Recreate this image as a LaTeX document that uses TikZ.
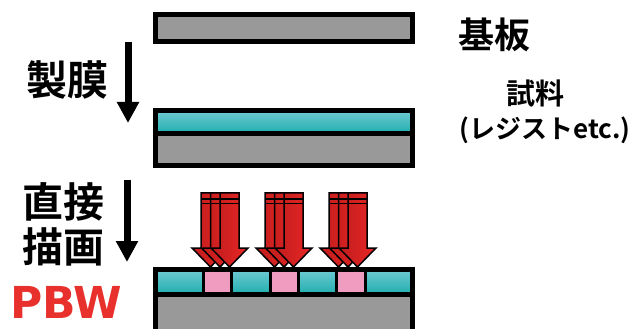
\documentclass[tikz,border=0pt]{standalone}
\usepackage{fontspec}
\newfontfamily\cjk{Noto Sans CJK JP}[BoldFont={Noto Sans CJK JP Bold}]
\newfontfamily\latinab{DejaVu Sans}
\usepackage{tikz}
\usetikzlibrary{arrows.meta}
\definecolor{gris}{RGB}{153,153,153}
\definecolor{cianclaro}{RGB}{112,202,210}
\definecolor{cianosc}{RGB}{30,174,174}
\definecolor{rosa}{RGB}{240,156,192}
\definecolor{rojo}{RGB}{232,40,38}
\definecolor{rojoosc}{RGB}{192,28,28}
\definecolor{rojopbw}{RGB}{232,48,44}
\tikzset{
  capa/.style={rectangle, draw=black, line width=5pt, inner sep=0pt, outer sep=0pt},
  sustrato/.style={capa, fill=gris},
  resina/.style={capa, top color=cianclaro, bottom color=cianosc},
  celda/.style={rectangle, draw=black, line width=3pt, inner sep=0pt, outer sep=0pt,
    minimum height=25pt},
  celdac/.style={celda, top color=cianclaro, bottom color=cianosc},
  celdar/.style={celda, fill=rosa},
  haz/.style={draw=black, line width=1.5pt, line join=miter, left color=rojoosc, right color=rojo},
  flecha/.style={-{Triangle[length=21pt, width=21pt]}, line width=7pt, black},
  etiq/.style={font=\cjk\bfseries, align=center, inner sep=0pt}
}
\begin{document}
\begin{tikzpicture}[x=1pt, y=-1pt]
  \useasboundingbox (0,0) rectangle (633,329);
  \clip (0,0) rectangle (633,329);
  % sustrato inicial
  \node[sustrato, minimum width=257pt, minimum height=27pt] (base1) at (284,28) {};
  % tras el depósito
  \node[resina, minimum width=257pt, minimum height=23pt] (capa2) at (284,122) {};
  \node[sustrato, minimum width=257pt, minimum height=32pt] (base2) at (284,149.5) {};
  % tras la escritura directa
  \node[sustrato, minimum width=257pt, minimum height=50pt] (base3) at (284,319.5) {};
  \foreach \xa/\xb/\col [count=\i] in {155.5/203.5/c, 203.5/231.5/r, 231.5/270/c,
      270/298.5/r, 298.5/336.5/c, 336.5/365/r, 365/412.5/c}{
    \node[celda\col, minimum width=\xb pt-\xa pt] (celda\i) at ({(\xa+\xb)/2},282) {};
  }
  \node[capa, minimum width=257pt, minimum height=25pt] (capa3) at (284,282) {};
  % haces de protones
  \foreach \gx in {0,64,128}{
    \foreach \dx in {0,9.5,19}{
      \pgfmathsetmacro{\xl}{201+\gx+\dx}
      \draw[haz] (\xl,193) -- ++(19,0) -- ++(0,55) -- ++(9,0)
        -- (\xl+9.5,267) -- (\xl-9,248) -- (\xl,248) -- cycle;
    }
    \draw[line width=1.5pt] (201+\gx,199) -- ++(38,0);
    \draw[line width=1.5pt] (201+\gx,203.5) -- ++(38,0);
  }
  % flechas de proceso
  \coordinate (f1a) at (128,42);
  \coordinate (f1b) at (128,123);
  \coordinate (f2a) at (127,180);
  \coordinate (f2b) at (127,262);
  \draw[flecha] (f1a) -- (f1b);
  \draw[flecha] (f2a) -- (f2b);
  % textos
  \node[etiq, font=\cjk\bfseries\fontsize{41}{45}\selectfont] (seimaku) at (68,80) {製膜};
  \node[etiq, font=\cjk\bfseries\fontsize{41}{45}\selectfont] (byoga) at (64,224.5) {直接\\描画};
  \node[inner sep=0pt, text=rojopbw, font=\latinab\bfseries\fontsize{44}{46}\selectfont] (pbw) at (66.5,302.5) {PBW};
  \node[etiq, font=\cjk\bfseries\fontsize{36}{40}\selectfont] (kiban) at (494,35) {基板};
  \node[etiq, font=\cjk\bfseries\fontsize{29}{32}\selectfont] (shiryo) at (535,93) {試料};
  \node[etiq, font=\cjk\bfseries\fontsize{26}{30}\selectfont] (resist) at (545,130) {(レジストetc.)};
\end{tikzpicture}
\end{document}
